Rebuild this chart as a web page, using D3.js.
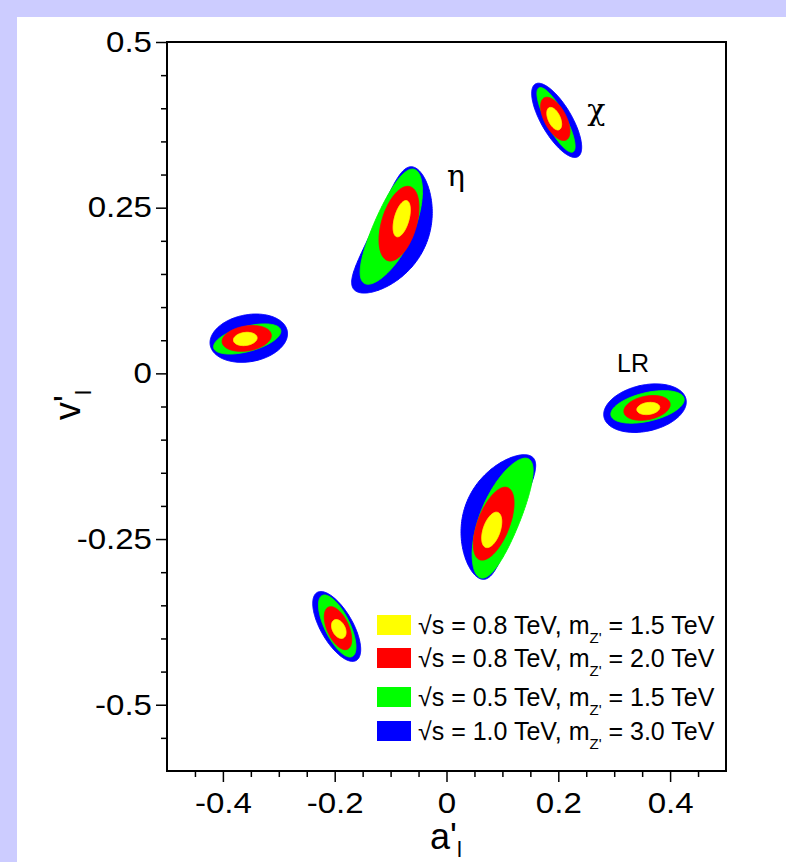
<!DOCTYPE html>
<html>
<head>
<meta charset="utf-8">
<script src="https://cdn.jsdelivr.net/npm/d3@7"></script>
<style>
  html, body { margin: 0; padding: 0; background: #ccccff; }
  svg { display: block; }
  text { font-family: "Liberation Sans", Arial, Helvetica, sans-serif; fill: #000; }
</style>
</head>
<body>
<svg id="chart" width="786" height="862"></svg>
<script>
// Allowed regions for the Z' couplings to leptons (a'_l, v'_l), one blob per model.
// Each row: [a0, v0, majorA, majorV, axisRatio, bend]
//   (a0, v0)         centre of the region
//   (majorA, majorV) half of the long axis, in coupling units
//   axisRatio        short / long half-axis
//   bend             crescent bending of the middle, as a fraction of the short half-axis
// Rows follow the legend order (0.8/1.5, 0.8/2.0, 0.5/1.5, 1.0/3.0 TeV); the last row is the largest.
const chiContours = [
  [0.1927, 0.3843, 0.0089, -0.0166, 0.50, 0],
  [0.1946, 0.3840, 0.0197, -0.0317, 0.46, 0],
  [0.1959, 0.3825, 0.0304, -0.0483, 0.27, 0],
  [0.1971, 0.3818, 0.0381, -0.0548, 0.36, 0]
];
const etaContours = [
  [-0.0801, 0.2334, 0.0089, 0.0272, 0.39, 0],
  [-0.0850, 0.2259, 0.0197, 0.0558, 0.45, 0],
  [-0.1011, 0.2214, 0.0447, 0.0860, 0.32, 0.20],
  [-0.1082, 0.2168, 0.0519, 0.0936, 0.40, 0.55]
];
const leftContours = [
  [-0.3600, 0.0519, 0.0211, 0.0023, 0.55, 0],
  [-0.3574, 0.0527, 0.0438, 0.0060, 0.50, 0],
  [-0.3565, 0.0519, 0.0599, 0.0136, 0.36, 0],
  [-0.3537, 0.0531, 0.0689, 0.0106, 0.60, 0]
];
const lrContours = [
  [0.3610, -0.0530, 0.0204, 0.0023, 0.52, 0],
  [0.3587, -0.0521, 0.0411, 0.0068, 0.50, 0],
  [0.3596, -0.0506, 0.0653, 0.0128, 0.38, 0],
  [0.3551, -0.0525, 0.0733, 0.0136, 0.55, 0]
];
const lowerMidContours = [
  [0.0809, -0.2362, 0.0107, 0.0264, 0.46, 0],
  [0.0844, -0.2268, 0.0250, 0.0543, 0.41, 0],
  [0.1029, -0.2185, 0.0429, 0.0898, 0.31, -0.20],
  [0.1047, -0.2170, 0.0447, 0.0928, 0.40, -0.55]
];
const lowerLeftContours = [
  [-0.1927, -0.3857, 0.0081, -0.0136, 0.63, 0],
  [-0.1941, -0.3845, 0.0170, -0.0317, 0.47, 0],
  [-0.1955, -0.3812, 0.0268, -0.0460, 0.37, 0],
  [-0.1964, -0.3819, 0.0349, -0.0513, 0.41, 0]
];
const allModels = [chiContours, etaContours, leftContours, lrContours, lowerMidContours, lowerLeftContours];

// model labels: [text, a, v]
const modelLabels = [
  ["χ", 0.268, 0.383],
  ["η", 0.017, 0.283],
  ["LR", 0.3336, 0.0015]
];

// legend entries
const legendSqrtS = ["0.8", "0.8", "0.5", "1.0"];
const legendMass  = ["1.5", "2.0", "1.5", "3.0"];

// axis ticks
const xMajorTicks = [-0.4, -0.2, 0, 0.2, 0.4];
const xMinorTicks = [-0.45, -0.35, -0.3, -0.25, -0.15, -0.1, -0.05, 0.05, 0.1, 0.15, 0.25, 0.3, 0.35, 0.45];
const yMajorTicks = [-0.5, -0.25, 0, 0.25, 0.5];
const yMinorTicks = [-0.55, -0.45, -0.4, -0.35, -0.3, -0.2, -0.15, -0.1, -0.05, 0.05, 0.1, 0.15, 0.2, 0.3, 0.35, 0.4, 0.45];

const levelColors = ["#ffff00", "#ff0000", "#00ff00", "#0000ff"];

const svg = d3.select("#chart");

// white pad
svg.append("rect").attr("x", 17).attr("y", 17).attr("width", 769).attr("height", 845).attr("fill", "#ffffff");

const x = d3.scaleLinear().domain([-0.5, 0.5]).range([167, 726]);
const y = d3.scaleLinear().domain([-0.6, 0.5]).range([771, 42]);

const plot = svg.append("g");

// outline of one region in screen space: ellipse along the long axis,
// with its middle pushed sideways for the crescent-shaped ones
function contourPoints(row) {
  const [a0, v0, ma, mv, ratio, bend] = row;
  const cx = x(a0), cy = y(v0);
  const ux = x(a0 + ma) - cx, uy = y(v0 + mv) - cy;
  const len = Math.hypot(ux, uy);
  const w = ratio * len;
  const nx = -uy / len * w, ny = ux / len * w;
  const n = 240;
  return d3.range(n).map(i => {
    const t = i / n * 2 * Math.PI;
    const c = Math.cos(t), s = Math.sin(t);
    const side = s + bend * s * s;
    return [cx + ux * c + nx * side, cy + uy * c + ny * side];
  });
}
const line = d3.line().curve(d3.curveLinearClosed);

allModels.forEach(rows => {
  for (let i = rows.length - 1; i >= 0; i--) {
    plot.append("path")
      .attr("d", line(contourPoints(rows[i])))
      .attr("fill", levelColors[i])
      .attr("stroke", levelColors[i])
      .attr("stroke-width", 1);
  }
});

// model labels
modelLabels.forEach(([txt, a, v]) => {
  const isGreek = txt !== "LR";
  plot.append("text")
    .attr("x", x(a)).attr("y", y(v))
    .attr("text-anchor", "middle")
    .style("font-family", isGreek ? "'DejaVu Serif', 'Liberation Serif', serif" : null)
    .style("font-size", isGreek ? "30px" : "25px")
    .text(txt);
});

// frame
svg.append("rect")
  .attr("x", x(-0.5)).attr("y", y(0.5))
  .attr("width", x(0.5) - x(-0.5)).attr("height", y(-0.6) - y(0.5))
  .attr("fill", "none").attr("stroke", "#000").attr("stroke-width", 2);

// axes
const fmt = d => String(d);
const xAxisG = svg.append("g").attr("transform", `translate(0,${y(-0.6)})`);
xAxisG.call(d3.axisBottom(x).tickValues(xMajorTicks).tickSize(11).tickPadding(10).tickFormat(fmt));
xAxisG.append("g").call(d3.axisBottom(x).tickValues(xMinorTicks).tickSize(6).tickFormat(""));
const yAxisG = svg.append("g").attr("transform", `translate(${x(-0.5)},0)`);
yAxisG.call(d3.axisLeft(y).tickValues(yMajorTicks).tickSize(11).tickPadding(4).tickFormat(fmt));
yAxisG.append("g").call(d3.axisLeft(y).tickValues(yMinorTicks).tickSize(6).tickFormat(""));
svg.selectAll(".domain").remove();
svg.selectAll(".tick line").attr("stroke", "#000").attr("stroke-width", 1.5);
// tick numbers: slightly widened Helvetica-style digits
svg.selectAll(".tick text")
  .style("font-size", "29px")
  .style("font-family", "'Liberation Sans', Arial, sans-serif")
  .attr("fill", "#000")
  .each(function () {
    const t = d3.select(this);
    const tx = +t.attr("x") || 0, ty = +t.attr("y") || 0;
    t.attr("x", 0).attr("y", 0).attr("transform", `translate(${tx},${ty}) scale(1.14,1)`);
  });

// axis titles
const xTitle = svg.append("text")
  .attr("x", 446).attr("y", 849)
  .attr("text-anchor", "middle")
  .style("font-size", "36px");
xTitle.append("tspan").text("a'");
xTitle.append("tspan").attr("dy", 8).style("font-size", "22px").text("l");

const yTitle = svg.append("text")
  .attr("transform", `translate(80,405) rotate(-90)`)
  .attr("text-anchor", "middle")
  .style("font-size", "36px");
yTitle.append("tspan").text("v'");
yTitle.append("tspan").attr("dy", 11).style("font-size", "22px").text("l");

// legend
const legendRowsY = [634, 667, 706, 740];
const legend = svg.append("g");
legendSqrtS.forEach((s, i) => {
  const by = legendRowsY[i];
  legend.append("rect")
    .attr("x", 377).attr("y", by - 19).attr("width", 34).attr("height", 20)
    .attr("fill", levelColors[i]);
  const t = legend.append("text").attr("x", 418).attr("y", by).style("font-size", "25px");
  t.append("tspan").text(`√s = ${s} TeV, m`);
  t.append("tspan").attr("dy", 9).style("font-size", "15px").text("Z'");
  t.append("tspan").attr("dy", -9).text(` = ${legendMass[i]} TeV`);
});
</script>
</body>
</html>
